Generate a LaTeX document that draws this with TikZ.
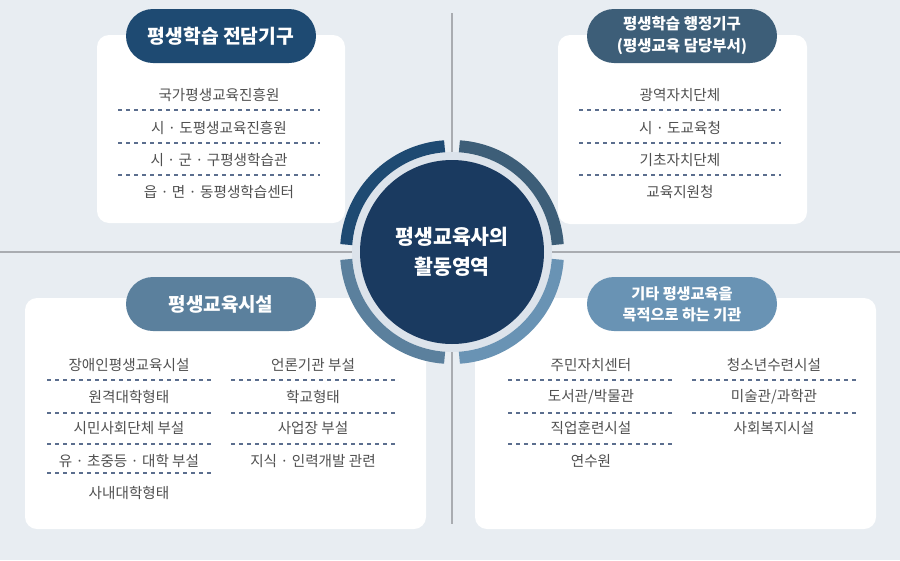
\documentclass[tikz,border=0pt]{standalone}
\usepackage{fontspec}
\setmainfont{Noto Sans CJK KR}
\usepackage{tikz}
\definecolor{bggray}{HTML}{E8EDF2}
\definecolor{hdA}{HTML}{1E4A72}
\definecolor{hdB}{HTML}{3D5E78}
\definecolor{hdC}{HTML}{5B809D}
\definecolor{hdD}{HTML}{6993B4}
\definecolor{hubblue}{HTML}{1A3A60}
\definecolor{ringgray}{HTML}{DCE3EB}
\definecolor{sepblue}{HTML}{5B6E8E}
\definecolor{itemgray}{HTML}{505050}
\definecolor{divgray}{HTML}{A9ACB1}
\tikzset{
  panel/.style={fill=white, rounded corners=12pt, inner sep=0pt},
  pill/.style={text=white, rounded corners=27pt, minimum width=190pt,
    minimum height=54pt, inner sep=0pt, align=center, font=\bfseries},
  item/.style={text=itemgray, inner sep=0pt,
    font=\fontsize{14.6}{17}\selectfont},
  sep/.style={sepblue, line width=1.2pt, dash pattern=on 4pt off 4pt}
}

\begin{document}
\begin{tikzpicture}[x=1pt,y=-1pt]
\newcommand\R{106}

\useasboundingbox[fill=bggray] (0,0) rectangle (900,560);

% dividers
\draw[divgray, line width=1.8pt] (452,13) -- (452,524);
\draw[divgray, line width=1.8pt] (0,252) -- (900,252);

% panels
\node[panel, minimum width=248pt, minimum height=188pt] (tlbox) at (221,129) {};
\node[panel, minimum width=249pt, minimum height=189pt] (trbox) at (682.5,129.5) {};
\node[panel, minimum width=401pt, minimum height=231pt] (blbox) at (225.5,413.5) {};
\node[panel, minimum width=401pt, minimum height=231pt] (brbox) at (675.5,413.5) {};

% headers
\node[pill, fill=hdA, font=\bfseries\fontsize{19.3}{22}\selectfont] (tlhead) at (221,36) {평생학습 전담기구};
\node[pill, fill=hdB, font=\bfseries\fontsize{15.5}{22}\selectfont] (trhead) at (682,36) {평생학습 행정기구\\(평생교육 담당부서)};
\node[pill, fill=hdC, font=\bfseries\fontsize{19}{22}\selectfont] (blhead) at (221,304) {평생교육시설};
\node[pill, fill=hdD, font=\bfseries\fontsize{15.2}{21}\selectfont] (brhead) at (682,304) {기타 평생교육을\\목적으로 하는 기관};

% centre
\fill[ringgray] (452,252) circle (100);
\draw[hdA, line width=12pt] (452,252) ++(184:\R) arc[start angle=184, end angle=266, radius=\R];
\draw[hdB, line width=12pt] (452,252) ++(274:\R) arc[start angle=274, end angle=356, radius=\R];
\draw[hdC, line width=12pt] (452,252) ++(94:\R) arc[start angle=94, end angle=176, radius=\R];
\draw[hdD, line width=12pt] (452,252) ++(4:\R) arc[start angle=4, end angle=86, radius=\R];
\node[circle, fill=hubblue, minimum size=184pt, inner sep=0pt, text=white,
  align=center, font=\bfseries\fontsize{20.5}{30}\selectfont] (hub) at (452,252)
  {평생교육사의\\활동영역};

% top left
\node[item] (tl1) at (219,95) {국가평생교육진흥원};
\node[item] (tl2) at (219,128) {시 · 도평생교육진흥원};
\node[item] (tl3) at (219,160) {시 · 군 · 구평생학습관};
\node[item] (tl4) at (219,192) {읍 · 면 · 동평생학습센터};
\draw[sep] (118,110) -- (320,110);
\draw[sep] (118,143) -- (320,143);
\draw[sep] (118,175) -- (320,175);

% top right
\node[item] (tr1) at (680,95) {광역자치단체};
\node[item] (tr2) at (680,128) {시 · 도교육청};
\node[item] (tr3) at (680,160) {기초자치단체};
\node[item] (tr4) at (680,192) {교육지원청};
\draw[sep] (579,110) -- (781,110);
\draw[sep] (579,143) -- (781,143);
\draw[sep] (579,175) -- (781,175);

% bottom left
\node[item] (bl1) at (129,365) {장애인평생교육시설};
\node[item] (bl2) at (129,397) {원격대학형태};
\node[item] (bl3) at (129,428) {시민사회단체 부설};
\node[item] (bl4) at (129,461) {유 · 초중등 · 대학 부설};
\node[item] (bl5) at (129,493) {사내대학형태};
\draw[sep] (47,380) -- (211,380);
\draw[sep] (47,413) -- (211,413);
\draw[sep] (47,444) -- (211,444);
\draw[sep] (47,473) -- (211,473);
\node[item] (bl6) at (313,365) {언론기관 부설};
\node[item] (bl7) at (313,397) {학교형태};
\node[item] (bl8) at (313,428) {사업장 부설};
\node[item] (bl9) at (313,461) {지식 · 인력개발 관련};
\draw[sep] (231,380) -- (395,380);
\draw[sep] (231,413) -- (395,413);
\draw[sep] (231,444) -- (395,444);

% bottom right
\node[item] (br1) at (591,365) {주민자치센터};
\node[item] (br2) at (591,397) {도서관/박물관};
\node[item] (br3) at (591,428) {직업훈련시설};
\node[item] (br4) at (591,461) {연수원};
\draw[sep] (508,380) -- (672,380);
\draw[sep] (508,413) -- (672,413);
\draw[sep] (508,444) -- (672,444);
\node[item] (br5) at (774,365) {청소년수련시설};
\node[item] (br6) at (774,397) {미술관/과학관};
\node[item] (br7) at (774,428) {사회복지시설};
\draw[sep] (692,380) -- (856,380);
\draw[sep] (692,413) -- (856,413);
\end{tikzpicture}
\end{document}
